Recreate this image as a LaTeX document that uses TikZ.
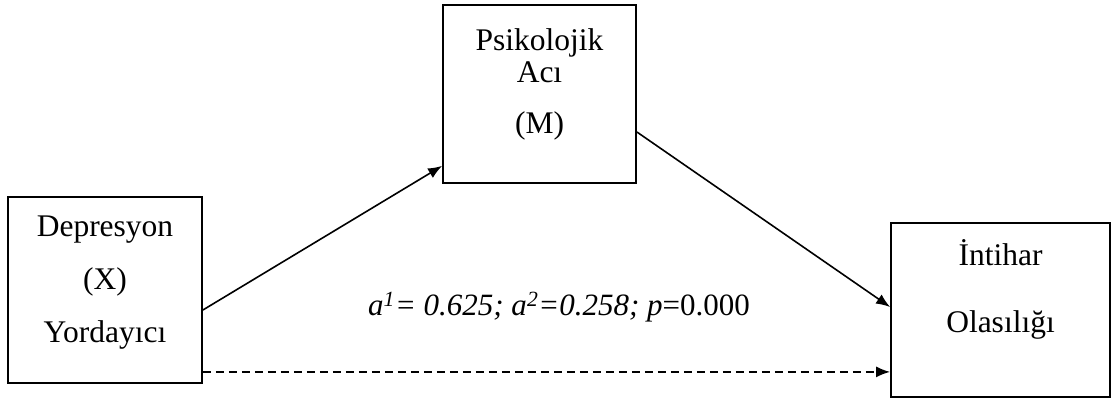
\documentclass[tikz,border=0pt]{standalone}
\usepackage{fontspec}
\setmainfont{Liberation Serif}
\usetikzlibrary{arrows.meta}

\begin{document}
\begin{tikzpicture}[x=1pt, y=-1pt,
	kutu/.style={draw, line width=1.8pt, inner sep=0pt},
	yazi/.style={align=center, font=\fontsize{31.5}{37}\selectfont},
	ok/.style={line width=1.6pt, -{Latex[length=14pt,width=11pt]}},
	kesik/.style={ok, dash pattern=on 8pt off 5pt}]
	\useasboundingbox (0,0) rectangle (1117,399);
	%kutular
	\node[kutu, minimum width=194pt, minimum height=186pt] (X) at (105,290) {};
	\node[kutu, minimum width=193pt, minimum height=178pt] (M) at (539.5,94) {};
	\node[kutu, minimum width=219pt, minimum height=174pt] (Y) at (1000.5,310) {};
	%kutu yazilari
	\node[yazi] (Xt) at ([yshift=7pt]X.center) {Depresyon\\[16pt](X)\\[16pt]Yordayıcı};
	\node[yazi] (Mt) at ([yshift=10pt]M.center) {Psikolojik\\[-5pt]Acı\\[14pt](M)};
	\node[yazi] (Yt) at ([yshift=21pt]Y.center) {İntihar\\[30pt]Olasılığı};
	%katsayilar
	\node[font=\fontsize{31}{36}\selectfont] (kat) at (559,307)
		{\textit{a\textsuperscript{1}= 0.625; a\textsuperscript{2}=0.258; p}=0.000};
	%oklar
	\draw[ok] ([yshift=-20pt]X.east) -- ([yshift=18pt]M.south west);
	\draw[ok] ([yshift=-38pt]M.east) -- ([yshift=3pt]Y.west);
	\draw[kesik] ([yshift=12pt]X.south east) -- ([yshift=26pt]Y.south west);
\end{tikzpicture}
\end{document}
